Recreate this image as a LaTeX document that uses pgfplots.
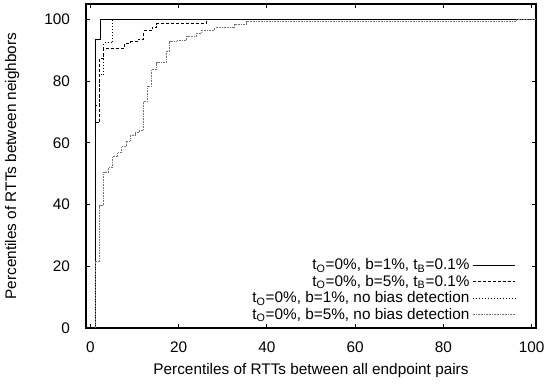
\documentclass[border=0pt]{standalone}
\usepackage{fontspec}
\setmainfont{Liberation Sans}
\usepackage{pgfplots}
\pgfplotsset{compat=1.18}
\begin{document}
\fontsize{11.5}{13.5}\selectfont
\begin{tikzpicture}
\begin{axis}[
  name=ax,
  scale only axis,
  width=337.5pt, height=243pt,
  xmin=-1, xmax=101, ymin=0, ymax=105,
  xtick={0,20,40,60,80,100},
  ytick={0,20,40,60,80,100},
  tick align=inside,
  major tick length=3pt,
  axis line style={line width=0.8pt},
  every tick/.style={black, line width=0.6pt},
  /pgf/number format/assume math mode=true,
  ticklabel style={font=\fontsize{11.5}{13.5}\selectfont},
  xticklabel style={yshift=-6.5pt},
  yticklabel style={xshift=-8pt},
  xlabel={Percentiles of RTTs between all endpoint pairs},
  ylabel={Percentiles of RTTs between neighbors},
  label style={font=\fontsize{11.5}{13.5}\selectfont},
  xlabel style={at={(axis description cs:0.5,0)}, anchor=center, yshift=-32.25pt},
  ylabel style={at={(axis description cs:-0.164,0.5)}, anchor=center},
  legend style={draw=none, fill=none, at={(0.965,0.003)}, anchor=south east,
    font=\fontsize{11.5}{13.5}\selectfont, row sep=-1.7pt},
  legend cell align=right,
  legend plot pos=right,
  legend image code/.code={\draw[#1] (0pt,0pt) -- (32pt,0pt);},
]
\addplot[black, line width=0.9pt] coordinates {
(1.2,0) (1.2,93.6) (2.2,93.6) (2.2,100) (101,100)};
\addlegendentry{t\textsubscript{O}=0\%, b=1\%, t\textsubscript{B}=0.1\%}

\addplot[black, line width=0.75pt, dash pattern=on 2.25pt off 1.5pt] coordinates {
(1.2,0) (1.2,66.5) (2.1,66.5) (2.1,87.5) (2.9,87.5) (2.9,90.5) (7.8,90.5) (7.8,92.2)
(9,92.2) (9,92.7) (10.8,92.7) (10.8,93.5) (12,93.5) (12,96.3) (14,96.3) (14,97.4)
(15,97.4) (15,98.6) (26.3,98.6) (26.3,100) (101,100)};
\addlegendentry{t\textsubscript{O}=0\%, b=5\%, t\textsubscript{B}=0.1\%}

\addplot[black, line width=0.75pt, dash pattern=on 0.75pt off 1.5pt] coordinates {
(1.2,0) (1.2,72) (2.0,72) (2.0,82) (3.0,82) (3.0,92.4) (5.0,92.4) (5.0,100) (101,100)};
\addlegendentry{t\textsubscript{O}=0\%, b=1\%, no bias detection}

\addplot[black!55, line width=0.75pt, dash pattern=on 0.6pt off 0.6pt] coordinates {
(1.1,0) (1.1,21.4) (2.1,21.4) (2.1,39.7) (3,39.7) (3,50.4) (4.1,50.4) (4.1,52)
(5,52) (5,55.5) (6.2,55.5) (6.2,56.9) (7.1,56.9) (7.1,58.7) (8.1,58.7) (8.1,60.6)
(9,60.6) (9,62.3) (10.2,62.3) (10.2,63.3) (11.1,63.3) (11.1,64.1) (12,64.1) (12,73.5)
(12.9,73.5) (12.9,78.4) (13.9,78.4) (13.9,83.8) (15,83.8) (15,86) (17.2,86) (17.2,89.7)
(18,89.7) (18,92.7) (19.6,92.7) (19.6,93.2) (21.8,93.2) (21.8,94.5) (24.1,94.5) (24.1,95.6)
(25.2,95.6) (25.2,96.5) (28.2,96.5) (28.2,97.4) (32.7,97.4) (32.7,98.5) (35.4,98.5) (35.4,99.3)
(96.5,99.3) (96.5,100) (101,100)};
\addlegendentry{t\textsubscript{O}=0\%, b=5\%, no bias detection}
\end{axis}
\pgfresetboundingbox
\path ([xshift=-64.5pt,yshift=-44.25pt]ax.south west) rectangle ([xshift=9pt,yshift=3pt]ax.north east);
\end{tikzpicture}
\end{document}
